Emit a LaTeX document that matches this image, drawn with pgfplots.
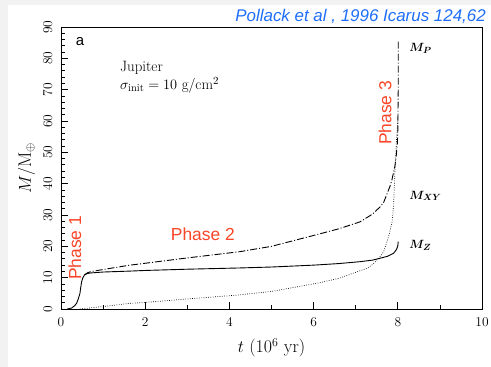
\documentclass[border=0pt]{standalone}
\usepackage{fontspec}
\usepackage{pgfplots}
\pgfplotsset{compat=1.18}
\newfontfamily\arial{Liberation Sans}
\definecolor{phred}{RGB}{250,70,40}
\definecolor{refblue}{RGB}{30,110,250}
\definecolor{bggray}{RGB}{242,242,242}

\pgfplotstableread{
t y
0.15 0
0.25 0.3
0.32 1.0
0.37 1.8
0.41 3.2
0.45 5.0
0.47 7.0
0.49 8.7
0.52 10.0
0.56 10.9
0.62 11.3
0.70 11.5
1.00 11.8
1.64 12.1
2.00 12.3
3.00 12.7
4.25 13.1
5.00 13.4
6.00 14.0
6.60 14.5
7.10 15.1
7.40 15.6
7.58 16.2
7.75 16.8
7.90 17.8
7.97 19.0
8.00 20.2
8.01 21.5
}\mz

\pgfplotstableread{
t y
0.56 10.9
0.62 11.5
0.70 11.9
1.00 12.6
1.64 14.0
2.00 14.6
3.00 16.3
4.25 18.3
5.00 20.0
6.15 24.0
6.60 25.6
7.10 27.8
7.40 30.3
7.58 32.6
7.66 33.9
7.81 39.0
7.86 41.2
7.93 45.5
7.96 48.5
7.99 53.0
8.00 57.0
8.01 70.0
8.01 85.3
}\mp

\pgfplotstableread{
t y
0.45 0
0.93 0.7
1.64 1.8
2.00 2.1
3.00 3.2
4.25 4.5
5.00 5.6
6.15 8.4
6.60 9.8
7.10 12.2
7.26 12.9
7.40 14.2
7.58 16.7
7.66 18.2
7.78 23.0
7.86 27.4
7.90 33.0
7.93 43.3
7.97 54.0
8.00 60.0
}\mxy

\begin{document}
\begin{tikzpicture}
\fill[bggray] (0bp,0bp) rectangle (491bp,367bp);
\fill[white] (8bp,0bp) rectangle (491bp,362bp);
\useasboundingbox (0bp,0bp) rectangle (491bp,367bp);
\node[anchor=base east, text=refblue, font=\arial\itshape\fontsize{17}{19}\selectfont, inner sep=0pt] at (486bp,345.5bp) {Pollack et al , 1996 Icarus 124,62};
\begin{axis}[
  at={(61bp,58bp)}, anchor=south west,
  width=421bp, height=282bp, scale only axis,
  xmin=0, xmax=10, ymin=0, ymax=90,
  xtick={0,2,...,10}, minor x tick num=1,
  ytick={0,10,...,90}, minor y tick num=4,
  xtick pos=bottom, ytick pos=left,
  tick align=inside,
  major tick length=7bp, minor tick length=4bp,
  axis line style={line width=0.8bp},
  every tick/.style={line width=0.8bp, black},
  /pgf/number format/assume math mode=true,
  ticklabel style={font=\fontsize{13.5}{15}\selectfont},
  yticklabel style={rotate=90, anchor=south},
  xticklabel shift=5bp,
  yticklabel shift=5bp,
  label style={font=\fontsize{18}{20}\selectfont},
  xlabel style={yshift=-5bp},
  ylabel style={yshift=1bp},
  xlabel={$t$ (10$^6$ yr)},
  ylabel={$M/\mathrm{M}_\oplus$},
  clip=false,
]
\addplot[black, line width=0.9bp] table[x=t,y=y]{\mz};
\addplot[black, line width=0.9bp, dash pattern=on 7bp off 2bp on 1bp off 2bp] table[x=t,y=y]{\mp};
\addplot[black, line width=0.7bp, dash pattern=on 0.7bp off 1.6bp] table[x=t,y=y]{\mxy};

\node[font=\arial\fontsize{15}{17}\selectfont] at (axis cs:0.45,85.2) {a};
\node[anchor=west, font=\fontsize{15}{17}\selectfont, inner sep=0pt] at (axis cs:1.40,77.0) {Jupiter};
\node[anchor=west, font=\fontsize{15}{17}\selectfont, inner sep=0pt] at (axis cs:1.40,71.4) {$\sigma_{\mathrm{init}} = 10$ g/cm$^2$};

\node[anchor=west, font=\boldmath\fontsize{13}{15}\selectfont, inner sep=0pt] at (axis cs:8.27,83.3) {$M_{P}$};
\node[anchor=west, font=\boldmath\fontsize{13}{15}\selectfont, inner sep=0pt] at (axis cs:8.27,36.1) {$M_{XY}$};
\node[anchor=west, font=\boldmath\fontsize{13}{15}\selectfont, inner sep=0pt] at (axis cs:8.27,20.4) {$M_{Z}$};

\node[rotate=90, text=phred, font=\arial\fontsize{17.5}{19}\selectfont] at (axis cs:0.33,19.5) {Phase 1};
\node[text=phred, font=\arial\fontsize{17.5}{19}\selectfont] at (axis cs:3.37,23.9) {Phase 2};
\node[rotate=90, text=phred, font=\arial\fontsize{17.5}{19}\selectfont] at (axis cs:7.70,62.6) {Phase 3};
\end{axis}
\end{tikzpicture}
\end{document}
